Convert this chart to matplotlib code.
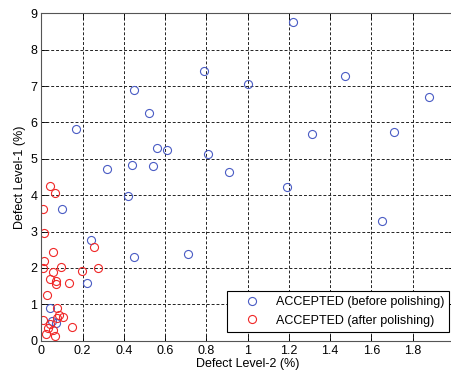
import matplotlib
matplotlib.use('Agg')
import matplotlib.pyplot as plt
import numpy as np

# defect levels (%) before polishing
before_l2 = [1.22, 0.79, 1.00, 1.47, 1.88, 0.45, 0.52, 0.17, 1.31, 1.71,
             0.56, 0.61, 0.81, 0.44, 0.54, 0.32, 0.91, 1.19, 1.65, 0.42,
             0.10, 0.24, 0.45, 0.71, 0.22, 0.04, 0.05, 0.07]
before_l1 = [8.76, 7.42, 7.05, 7.29, 6.70, 6.89, 6.26, 5.83, 5.68, 5.73,
             5.29, 5.25, 5.13, 4.84, 4.79, 4.73, 4.65, 4.23, 3.28, 3.98,
             3.62, 2.76, 2.31, 2.39, 1.59, 0.89, 0.54, 0.48]

# defect levels (%) after polishing
after_l2 = [0.043, 0.067, 0.006, 0.014, 0.257, 0.056, 0.014, 0.006, 0.095, 0.276,
            0.197, 0.058, 0.042, 0.069, 0.069, 0.135, 0.027, 0.074, 0.006, 0.074,
            0.106, 0.147, 0.030, 0.058, 0.022, 0.067, 0.085, 0.040]
after_l1 = [4.26, 4.05, 3.63, 2.97, 2.57, 2.45, 2.20, 1.99, 2.03, 1.99,
            1.91, 1.88, 1.70, 1.64, 1.55, 1.59, 1.25, 0.89, 0.57, 0.61,
            0.66, 0.38, 0.34, 0.29, 0.18, 0.14, 0.70, 0.45]

xticks = np.arange(0, 2.01, 0.2)
xlabels = ['0', '0.2', '0.4', '0.6', '0.8', '1', '1.2', '1.4', '1.6', '1.8', '2']
yticks = list(range(10))

plt.rcParams['font.family'] = ['Liberation Sans', 'DejaVu Sans']
plt.rcParams['font.size'] = 9

fig = plt.figure(figsize=(4.52, 3.76), dpi=100)
ax = fig.add_axes([0.0916, 0.094, 0.9124, 0.8706])

ax.plot(before_l2, before_l1, 'o', mfc='none', mec='#4a5cc4', ms=5.8, mew=0.8,
        label='ACCEPTED (before polishing)')
ax.plot(after_l2, after_l1, 'o', mfc='none', mec='#f02828', ms=5.8, mew=0.8,
        label='ACCEPTED (after polishing)')

ax.set_xlim(0, 2)
ax.set_ylim(0, 9)
ax.set_xticks(xticks)
ax.set_xticklabels(xlabels)
ax.set_yticks(yticks)
ax.grid(True, linestyle=(0, (3, 2)), color='#222222', linewidth=0.7)
ax.tick_params(direction='in', top=True, right=True, length=4, width=0.6, pad=3)
for s in ax.spines.values():
    s.set_color('#555555')
    s.set_linewidth(0.8)

ax.set_xlabel('Defect Level-2 (%)', labelpad=1)
ax.set_ylabel('Defect Level-1 (%)', labelpad=3)

leg = ax.legend(loc='lower left', bbox_to_anchor=(226.7 / 452, (376 - 331.7) / 376),
                bbox_transform=fig.transFigure, fancybox=False, edgecolor='black',
                framealpha=1, borderpad=0.4, handlelength=3.2, handletextpad=0.35,
                borderaxespad=0, fontsize=9)
leg.get_frame().set_linewidth(0.8)

fig.savefig('out.png', dpi=100)
